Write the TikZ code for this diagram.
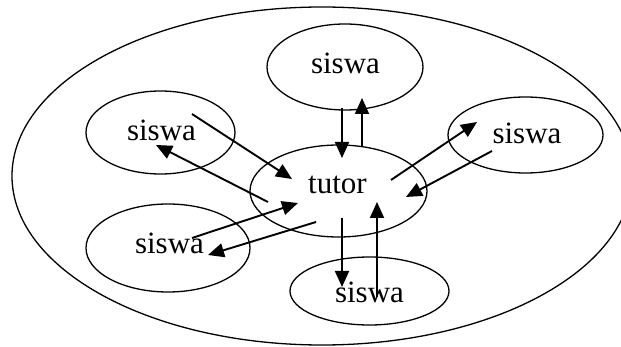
\documentclass[tikz,border=0pt]{standalone}
\usepackage{fontspec}
\setmainfont{Liberation Serif}
\usetikzlibrary{shapes.geometric,arrows.meta}
\begin{document}
\begin{tikzpicture}[x=1pt,y=-1pt,
  bub/.style={draw,ellipse,line width=1.3pt,inner sep=0pt},
  lbl/.style={anchor=base,font=\fontsize{31}{36}\selectfont,inner sep=0pt},
  arr/.style={line width=1.9pt,-{Triangle[length=16pt,width=14pt]}}]
\useasboundingbox (0,0) rectangle (621,347);
\draw[line width=1.3pt] (322,176) ellipse [x radius=310pt, y radius=169pt];
% ellipses
\node[bub,minimum width=156pt,minimum height=86pt] (stop) at (345,67) {};
\node[bub,minimum width=149pt,minimum height=83pt] (sleft) at (160.5,132.5) {};
\node[bub,minimum width=155pt,minimum height=76pt] (sright) at (525.5,135) {};
\node[bub,minimum width=177pt,minimum height=92pt] (tutor) at (338.5,191) {};
\node[bub,minimum width=164pt,minimum height=88pt] (sbl) at (168,248) {};
\node[bub,minimum width=159pt,minimum height=68pt] (sbot) at (369.5,291) {};
% labels
\node[lbl] (ltop) at (345.5,74) {siswa};
\node[lbl] (lleft) at (161.5,141) {siswa};
\node[lbl] (lright) at (527,144) {siswa};
\node[lbl] (ltutor) at (337.5,194) {tutor};
\node[lbl] (lbl) at (169.5,254) {siswa};
\node[lbl] (lbot) at (369.5,303) {siswa};
% arrow end points
\coordinate (a1s) at (192,114);  \coordinate (a1e) at (292,179);
\coordinate (a2s) at (268,202);  \coordinate (a2e) at (156,145);
\coordinate (a3s) at (342,108);  \coordinate (a3e) at (342,158);
\coordinate (a4s) at (362,147);  \coordinate (a4e) at (362,98);
\coordinate (a5s) at (391,180);  \coordinate (a5e) at (477,122);
\coordinate (a6s) at (492,151);  \coordinate (a6e) at (406,197);
\coordinate (a7s) at (342,218);  \coordinate (a7e) at (342,287);
\coordinate (a8s) at (377,297);  \coordinate (a8e) at (377,202);
\coordinate (a9s) at (192,238);  \coordinate (a9e) at (298,203);
\coordinate (a10s) at (316,222); \coordinate (a10e) at (208,255);
% arrows
\draw[arr] (a1s) -- (a1e);
\draw[arr] (a2s) -- (a2e);
\draw[arr] (a3s) -- (a3e);
\draw[arr] (a4s) -- (a4e);
\draw[arr] (a5s) -- (a5e);
\draw[arr] (a6s) -- (a6e);
\draw[arr] (a7s) -- (a7e);
\draw[arr] (a8s) -- (a8e);
\draw[arr] (a9s) -- (a9e);
\draw[arr] (a10s) -- (a10e);
\end{tikzpicture}
\end{document}
